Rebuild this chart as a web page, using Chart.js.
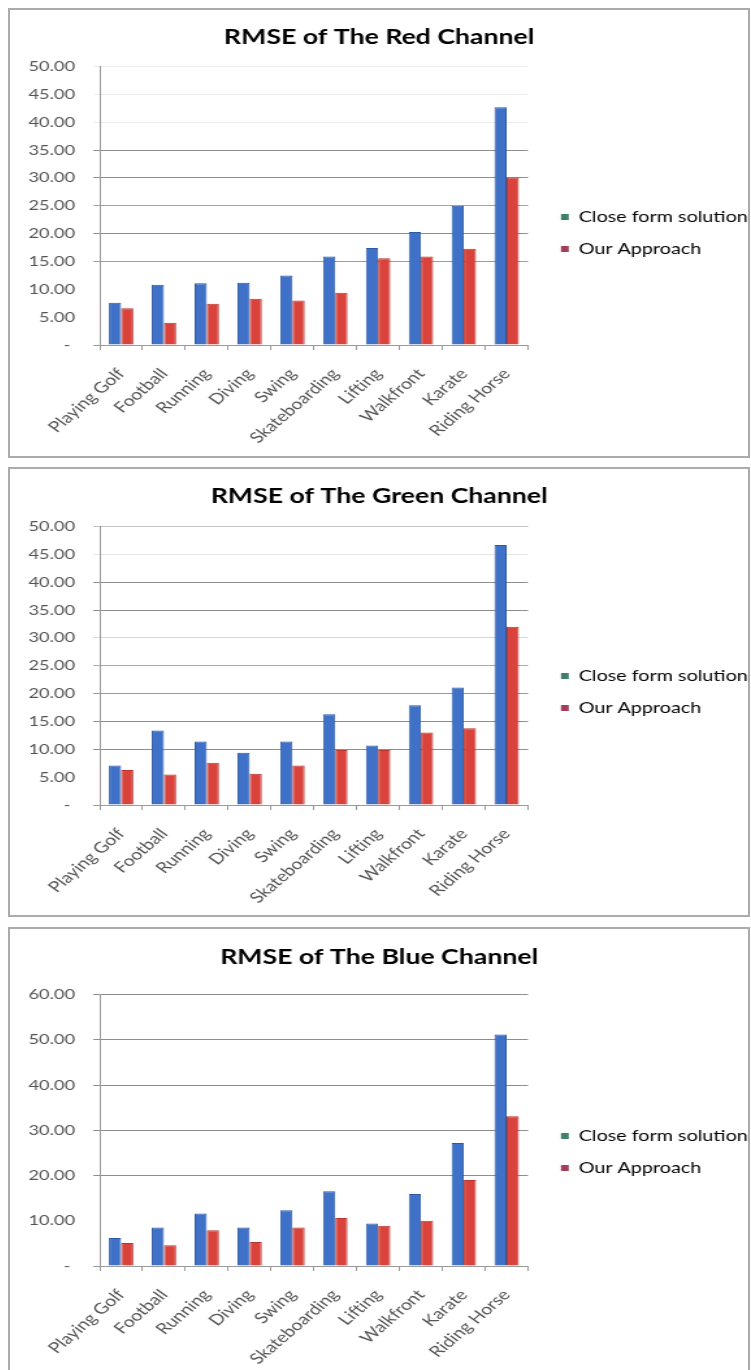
<!DOCTYPE html>
<html lang="en">
<head>
  <meta charset="UTF-8">
  <title>RMSE per channel</title>
  <style>
    body {
      margin: 0;
      width: 751px;
      height: 1370px;
      overflow: hidden;
      background: #ffffff;
      position: relative;
    }

    .panel {
      position: absolute;
      left: 8px;
      width: 742px;
      height: 450px;
      box-sizing: border-box;
      border: 2px solid #ababab;
      background: #ffffff;
      overflow: hidden;
    }

    /* charts are drawn narrow and stretched sideways */
    .stretch {
      width: 568px;
      height: 446px;
      transform: scaleX(1.3);
      transform-origin: 0 0;
    }
  </style>
</head>
<body>
  <div class="panel" style="top: 8px;">
    <div class="stretch"><canvas id="red-chart" width="568" height="446"></canvas></div>
  </div>
  <div class="panel" style="top: 467px;">
    <div class="stretch"><canvas id="green-chart" width="568" height="446"></canvas></div>
  </div>
  <div class="panel" style="top: 927px;">
    <div class="stretch"><canvas id="blue-chart" width="568" height="446"></canvas></div>
  </div>

  <script src="https://cdn.jsdelivr.net/npm/chart.js"></script>
  <script>
    const categories = ["Playing Golf", "Football", "Running", "Diving", "Swing",
      "Skateboarding", "Lifting", "Walkfront", "Karate", "Riding Horse"];
    const seriesNames = ["Close form solution", "Our Approach"];

    // red channel
    const redClose = [7.6, 10.8, 11.1, 11.2, 12.5, 15.9, 17.4, 20.3, 25.0, 42.7];
    const redOurs = [6.6, 4.0, 7.4, 8.3, 8.0, 9.4, 15.6, 15.9, 17.3, 30.1];

    // green channel
    const greenClose = [7.1, 13.4, 11.4, 9.4, 11.4, 16.3, 10.7, 17.9, 21.1, 46.7];
    const greenOurs = [6.3, 5.5, 7.6, 5.6, 7.1, 9.9, 9.9, 13.0, 13.8, 32.0];

    // blue channel
    const blueClose = [6.2, 8.5, 11.6, 8.5, 12.3, 16.5, 9.4, 15.9, 27.2, 51.2];
    const blueOurs = [5.1, 4.6, 7.9, 5.3, 8.5, 10.6, 8.9, 10.0, 19.0, 33.1];

    // value axis ranges
    const redAxis = { max: 50, step: 5 };
    const greenAxis = { max: 50, step: 5 };
    const blueAxis = { max: 60, step: 10 };

    const FONT = 'Lato, "Open Sans", sans-serif';
    const AXIS_GREY = "#9a9a9a";
    const DARK = "#8e8e8e";
    const FAINT = "#ececec";
    const NONE = "rgba(0,0,0,0)";

    // gridline shade for each tick, bottom to top
    const redGrid = [AXIS_GREY, NONE, NONE, "#9e9e9e", DARK, "#a4a4a4", DARK, DARK, FAINT, FAINT, FAINT];
    const greenGrid = [AXIS_GREY, NONE, DARK, DARK, "#9a9a9a", "#aaaaaa", "#d8d8d8", DARK, DARK, "#e6e6e6", "#c4c4c4"];
    const blueGrid = [AXIS_GREY, NONE, DARK, DARK, DARK, DARK, DARK];

    // move the legend a little away from the plot without resizing the plot
    const legendNudge = {
      id: "legendNudge",
      afterLayout(chart, args, opts) {
        if (chart.legend && opts.dx) {
          chart.legend.left += opts.dx;
          chart.legend.right += opts.dx;
        }
      }
    };

    function drawChannel(id, title, close, ours, axis, gridShades, layout) {
      const ctx = document.getElementById(id).getContext("2d");
      return new Chart(ctx, {
        type: "bar",
        data: {
          labels: categories,
          datasets: [
            {
              label: seriesNames[0],
              data: close,
              backgroundColor: "#3e71c7",
              borderColor: "#2c58a5",
              borderWidth: 1,
              legendColor: "#3f806b"
            },
            {
              label: seriesNames[1],
              data: ours,
              backgroundColor: "#d9433b",
              borderColor: "#b8342e",
              borderWidth: 1,
              legendColor: "#a13f5b"
            }
          ]
        },
        plugins: [legendNudge],
        options: {
          responsive: false,
          animation: false,
          layout: { padding: 0 },
          datasets: {
            bar: { categoryPercentage: 0.57, barPercentage: 1.0 }
          },
          scales: {
            x: {
              offset: true,
              grid: {
                offset: true,
                drawOnChartArea: false,
                tickLength: 5,
                color: AXIS_GREY
              },
              border: { display: true, color: AXIS_GREY },
              ticks: {
                autoSkip: false,
                minRotation: 48,
                maxRotation: 48,
                padding: 15,
                color: "#555555",
                font: { family: FONT, size: 15 }
              },
              afterFit(scale) { scale.height = layout.axisHeight; }
            },
            y: {
              min: 0,
              max: axis.max,
              grid: {
                tickLength: 5,
                color: (c) => gridShades[c.index] || NONE
              },
              border: { display: true, color: AXIS_GREY },
              ticks: {
                stepSize: axis.step,
                padding: 14,
                color: "#555555",
                font: { family: FONT, size: 14 },
                callback: (v) => (v === 0 ? "- " : v.toFixed(2))
              },
              afterFit(scale) { scale.width = 69; }
            }
          },
          plugins: {
            title: {
              display: true,
              text: title,
              color: "#000000",
              font: { family: FONT, size: 20.5, weight: "bold" },
              padding: { top: layout.titleTop, bottom: layout.titleBottom }
            },
            legend: {
              position: "right",
              maxWidth: 169.5,
              labels: {
                boxWidth: 6,
                boxHeight: 6,
                padding: 16.8,
                color: "#555555",
                font: { family: FONT, size: 15.2 },
                generateLabels(chart) {
                  return chart.data.datasets.map((ds, i) => ({
                    text: ds.label,
                    fillStyle: ds.legendColor,
                    strokeStyle: ds.legendColor,
                    lineWidth: 0,
                    datasetIndex: i,
                    hidden: false
                  }));
                }
              }
            },
            legendNudge: { dx: 8.5 },
            tooltip: { enabled: false }
          }
        }
      });
    }

    drawChannel("red-chart", "RMSE of The Red Channel", redClose, redOurs, redAxis, redGrid,
      { titleTop: 15, titleBottom: 17, axisHeight: 111 });
    drawChannel("green-chart", "RMSE of The Green Channel", greenClose, greenOurs, greenAxis, greenGrid,
      { titleTop: 15, titleBottom: 18, axisHeight: 110 });
    drawChannel("blue-chart", "RMSE of The Blue Channel", blueClose, blueOurs, blueAxis, blueGrid,
      { titleTop: 16, titleBottom: 25, axisHeight: 109 });
  </script>
</body>
</html>
